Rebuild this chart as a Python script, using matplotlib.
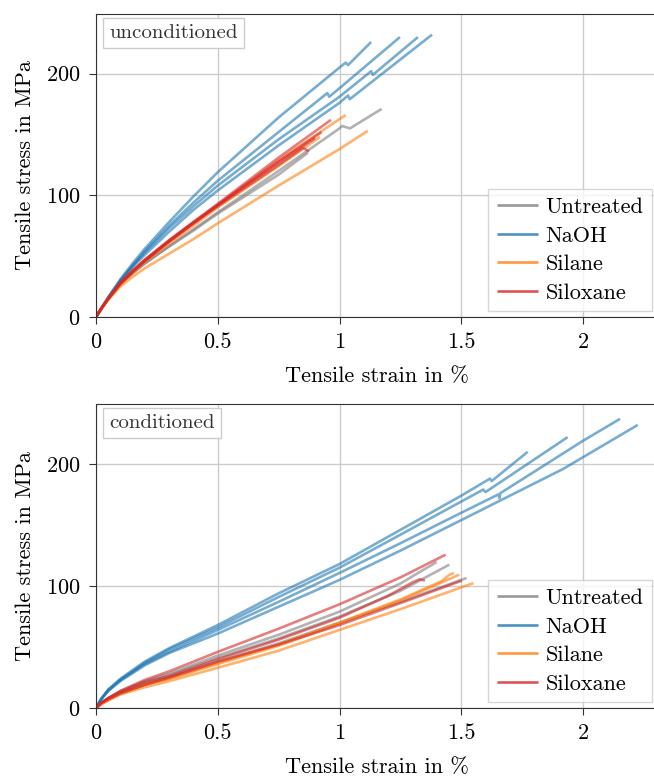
import numpy as np
import matplotlib
matplotlib.use("Agg")
import matplotlib.pyplot as plt

plt.rcParams['font.family'] = 'serif'
plt.rcParams['font.serif'] = ['cmr10']
plt.rcParams['mathtext.fontset'] = 'cm'
plt.rcParams['axes.formatter.use_mathtext'] = True
plt.rcParams['axes.unicode_minus'] = False

groups = ['Untreated', 'NaOH', 'Silane', 'Siloxane']
colors = ['#7f7f7f', '#1f77b4', '#ff7f0e', '#d62728']
xticks = [0, 0.5, 1, 1.5, 2]
xtick_labels = ['0', '0.5', '1', '1.5', '2']
yticks = [0, 100, 200]

# unconditioned specimens: (strain in %, stress in MPa)
unc_untreated = [
    ([0, .025, .05, .1, .15, .2, .3, .4, .5, .75, 1.0, 1.01, 1.043, 1.173],
     [0, 8, 15, 27, 36, 44, 58, 72, 86, 120, 155, 157, 155, 171]),
    ([0, .025, .05, .1, .15, .2, .3, .4, .5, .75, .87],
     [0, 8, 15, 27, 36, 44, 58, 71, 85, 117, 135]),
]
unc_naoh = [
    ([0, .025, .05, .1, .15, .2, .3, .4, .5, .75, 1.0, 1.025, 1.035, 1.13],
     [0, 8, 16, 31, 44, 56, 78, 99, 119, 164, 205, 209, 207, 226]),
    ([0, .025, .05, .1, .15, .2, .3, .4, .5, .75, .95, .958, 1.0, 1.248],
     [0, 8, 16, 30, 42, 54, 75, 94, 112, 152, 184, 181, 188, 230]),
    ([0, .025, .05, .1, .15, .2, .3, .4, .5, .75, 1.0, 1.13, 1.137, 1.322],
     [0, 8, 16, 30, 42, 53, 73, 91, 108, 146, 181, 202, 199, 230]),
    ([0, .025, .05, .1, .15, .2, .3, .4, .5, .75, 1.0, 1.035, 1.042, 1.38],
     [0, 8, 15, 29, 41, 51, 70, 88, 104, 141, 176, 182, 179, 232]),
]
unc_silane = [
    ([0, .025, .05, .1, .15, .2, .3, .4, .5, .75, 1.0, 1.116],
     [0, 7, 14, 25, 33, 40, 52, 64, 77, 108, 138, 153]),
    ([0, .025, .05, .1, .15, .2, .3, .4, .5, .75, 1.025],
     [0, 8, 15, 27, 37, 46, 62, 77, 92, 129, 166]),
    ([0, .025, .05, .1, .15, .2, .3, .4, .5, .75, .92],
     [0, 8, 15, 27, 36, 45, 60, 75, 90, 124, 148]),
]
unc_siloxane = [
    ([0, .025, .05, .1, .15, .2, .3, .4, .5, .75, .965],
     [0, 8, 15, 28, 38, 47, 63, 78, 93, 131, 162]),
    ([0, .025, .05, .1, .15, .2, .3, .4, .5, .75, .927],
     [0, 8, 15, 28, 38, 47, 63, 78, 92, 128, 152]),
    ([0, .025, .05, .1, .15, .2, .3, .4, .5, .75, .85, .875],
     [0, 8, 15, 27, 37, 46, 62, 77, 91, 125, 139, 136]),
    ([0, .025, .05, .1, .15, .2, .3, .4, .5, .75, .9],
     [0, 8, 15, 28, 37, 46, 62, 77, 92, 127, 147]),
]

# conditioned specimens
con_untreated = [
    ([0, .02, .05, .1, .2, .3, .5, .75, 1.0, 1.25, 1.399],
     [0, 4, 8, 14, 22, 28, 43, 60, 79, 102, 119.7]),
    ([0, .02, .05, .1, .2, .3, .5, .75, 1.0, 1.25, 1.451],
     [0, 4, 8, 13, 21, 27, 41, 57, 75, 96, 117.5]),
    ([0, .02, .05, .1, .2, .3, .5, .75, 1.0, 1.25, 1.522],
     [0, 4, 7, 12, 19, 25, 38, 53, 70, 87, 106.6]),
]
con_naoh = [
    ([0, .02, .05, .1, .2, .3, .5, .75, 1.0, 1.25, 1.5, 1.618, 1.625, 1.773],
     [0, 7, 15, 24, 38, 49, 68, 94, 118, 146, 174, 188, 186, 210]),
    ([0, .02, .05, .1, .2, .3, .5, .75, 1.0, 1.25, 1.59, 1.6, 1.937],
     [0, 7, 15, 23, 37, 48, 66, 91, 115, 142, 179, 177, 222]),
    ([0, .02, .05, .1, .2, .3, .5, .75, 1.0, 1.25, 1.5, 1.652, 1.657, 1.66, 2.0, 2.152],
     [0, 7, 14, 23, 36, 46, 64, 87, 110.7, 135, 160, 175, 172, 176, 219, 237]),
    ([0, .02, .05, .1, .2, .3, .5, .75, 1.0, 1.25, 1.5, 1.919, 2.225],
     [0, 7, 14, 22, 35, 45, 61, 83, 105, 129, 154, 196, 232]),
]
con_silane = [
    ([0, .02, .05, .1, .2, .3, .5, .75, 1.0, 1.25, 1.42, 1.45, 1.47],
     [0, 3, 7, 12, 19, 24, 37, 52, 70, 89, 104, 109, 110.7]),
    ([0, .02, .05, .1, .2, .3, .5, .75, 1.0, 1.25, 1.492],
     [0, 3, 7, 12, 19, 24, 36, 51, 69, 88, 109.3]),
    ([0, .02, .05, .1, .2, .3, .5, .75, 1.0, 1.25, 1.55],
     [0, 3, 6, 11, 17, 22, 33, 47, 64, 81, 102.4]),
]
con_siloxane = [
    ([0, .02, .05, .1, .2, .3, .5, .75, 1.0, 1.25, 1.436],
     [0, 4, 8, 14, 23, 30, 46, 65, 85, 107, 125.7]),
    ([0, .02, .05, .1, .2, .3, .5, .75, 1.0, 1.2, 1.3, 1.33, 1.351],
     [0, 4, 8, 13, 21, 26, 40, 56, 74, 92, 103, 105.5, 104.4]),
    ([0, .02, .05, .1, .2, .3, .5, .75, 1.0, 1.25, 1.502],
     [0, 4, 7, 12, 19, 25, 38, 52, 68, 86, 104.4]),
]

panels = [
    ('unconditioned', [unc_untreated, unc_naoh, unc_silane, unc_siloxane]),
    ('conditioned', [con_untreated, con_naoh, con_silane, con_siloxane]),
]

fig = plt.figure(figsize=(6.54, 7.77), dpi=100)
positions = [[0.1468, 0.592, 0.8593, 0.390], [0.1468, 0.0888, 0.8593, 0.391]]

for pos, (title, data) in zip(positions, panels):
    ax = fig.add_axes(pos)
    handles = []
    for name, col, curves in zip(groups, colors, data):
        for i, (x, y) in enumerate(curves):
            ln, = ax.plot(x, y, color=col, lw=1.9, alpha=0.6,
                          solid_capstyle='butt', solid_joinstyle='round')
            if i == 0:
                handles.append(ln)
    ax.set_xlim(0, 2.308)
    ax.set_ylim(0, 249)
    ax.set_xticks(xticks)
    ax.set_xticklabels(xtick_labels)
    ax.set_yticks(yticks)
    ax.tick_params(labelsize=16, length=5, color='#333333', pad=6)
    ax.grid(True, color='#cccccc', lw=1.0)
    ax.set_axisbelow(True)
    for sp in ax.spines.values():
        sp.set_color('#333333')
    ax.set_xlabel('Tensile strain in %', fontsize=16, labelpad=11)
    ax.set_ylabel('Tensile stress in MPa', fontsize=16, labelpad=8)
    ax.text(0.0234, 0.967, title, transform=ax.transAxes, fontsize=15,
            va='top', ha='left', color='#333333',
            bbox=dict(boxstyle='square,pad=0.3', fc='white', ec='#cccccc'))
    leg = ax.legend(handles, groups, loc='lower right', fontsize=16,
                    fancybox=False, edgecolor='#cccccc', framealpha=0.8,
                    handlelength=1.85, handletextpad=0.35, labelspacing=0.4,
                    borderaxespad=0.25)
    for h in leg.legend_handles:
        h.set_alpha(0.8)

fig.savefig('out.png', dpi=100)
